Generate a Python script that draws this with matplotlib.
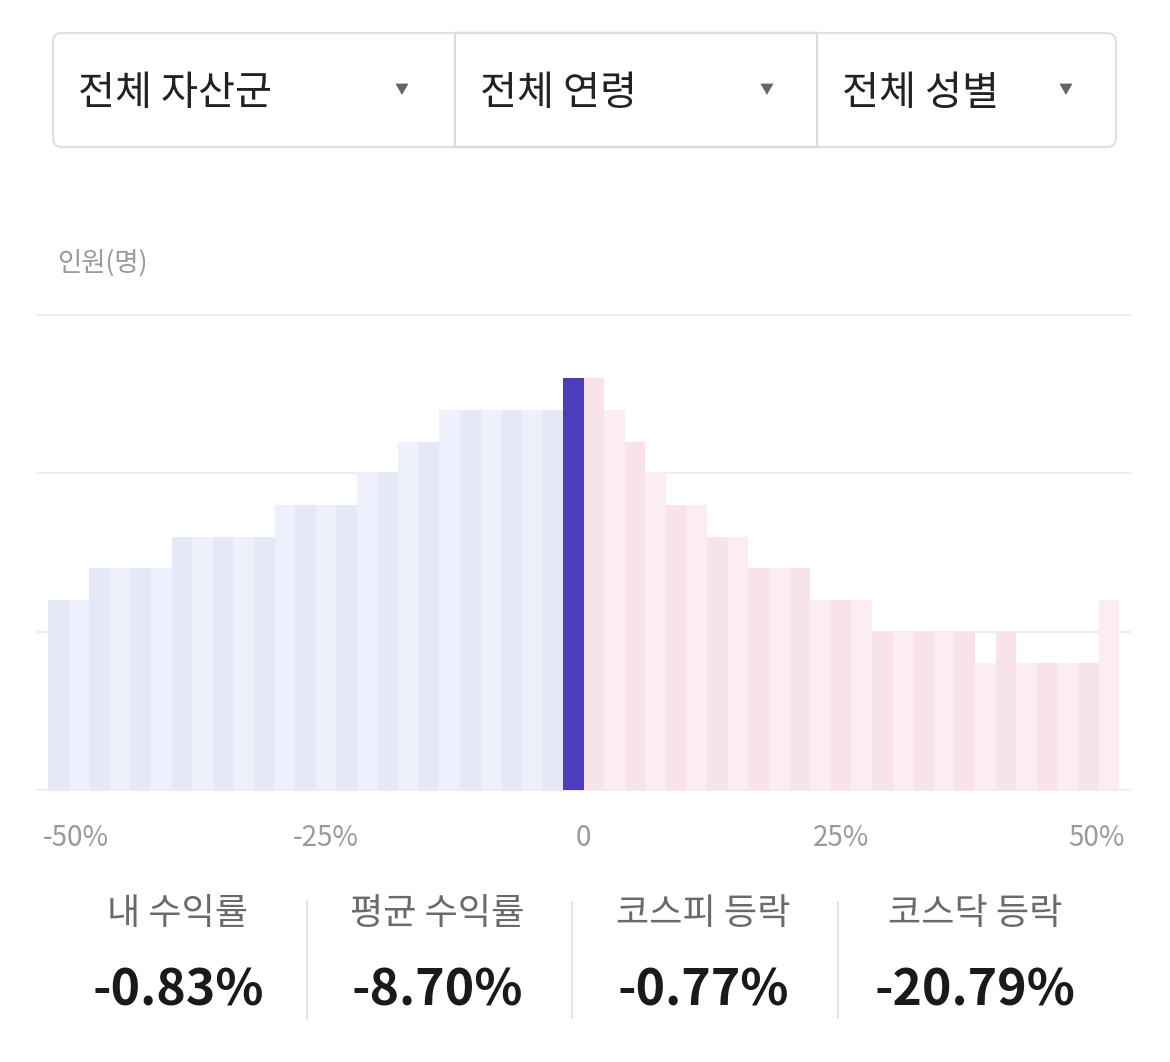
import numpy as np
import matplotlib
matplotlib.use("Agg")
import matplotlib.pyplot as plt
from matplotlib.patches import FancyBboxPatch, Rectangle
from matplotlib.transforms import offset_copy

plt.rcParams['font.family'] = ['Noto Sans CJK KR', 'DejaVu Sans']

# 데이터
filters = ["전체 자산군", "전체 연령", "전체 성별"]
bin_width = 2
bin_starts = np.arange(-52, 52, bin_width)  # 2% 구간
counts_neg = [6, 6, 7, 7, 7, 7, 8, 8, 8, 8, 8, 9, 9, 9, 9, 10, 10, 11, 11, 12, 12, 12, 12, 12, 12, 13]
counts_pos = [13, 12, 11, 10, 9, 9, 8, 8, 7, 7, 7, 6, 6, 6, 5, 5, 5, 5, 5, 4, 5, 4, 4, 4, 4, 6]
counts = counts_neg + counts_pos
tick_vals = [-50, -25, 0, 25, 50]
tick_labels = ["-50%", "-25%", "0", "25%", "50%"]
stat_names = ["내 수익률", "평균 수익률", "코스피 등락", "코스닥 등락"]
stat_values = [-0.83, -8.70, -0.77, -20.79]
my_return = stat_values[0]

W, H = 1170, 1062
fig = plt.figure(figsize=(W / 100, H / 100), dpi=100)

# 차트 영역
ax = fig.add_axes([37 / W, 1 - 790 / H, (1130 - 37) / W, (790 - 315) / H])
colors = []
for i, s in enumerate(bin_starts):
    if s <= my_return < s + bin_width:
        colors.append("#4B3DBB")
    elif s < 0:
        colors.append("#E5E9F7" if i % 2 == 0 else "#EEF0FB")
    else:
        colors.append("#F9E3EA" if i % 2 == 0 else "#FBEDF1")
ax.bar(bin_starts, counts, width=bin_width, align='edge', color=colors, linewidth=0, zorder=2)

for g in [0, 5, 10, 15]:
    ax.axhline(g, color="#EEEEF1", lw=1.6, zorder=1, clip_on=False)

ax.set_xlim(-53.07, 53.05)
ax.set_ylim(0, 15)
ax.set_yticks([])
ax.set_xticks(tick_vals)
ax.set_xticklabels(tick_labels, color="#9A9A9A", fontsize=20)
ax.tick_params(axis='x', length=0, pad=24)
for sp in ax.spines.values():
    sp.set_visible(False)
# 양 끝 라벨을 축 안쪽으로 살짝
tl = ax.get_xticklabels()
tl[0].set_transform(offset_copy(tl[0].get_transform(), fig=fig, x=7, units='dots'))
tl[-1].set_transform(offset_copy(tl[-1].get_transform(), fig=fig, x=-2, units='dots'))

# 오버레이 (필터, 라벨, 통계)
ov = fig.add_axes([0, 0, 1, 1], zorder=-1)
ov.set_xlim(0, W)
ov.set_ylim(H, 0)
ov.axis('off')

box = FancyBboxPatch((53, 33), 1116 - 53, 147 - 33, boxstyle="round,pad=0,rounding_size=9",
                     facecolor="white", edgecolor="#E0E0E3", lw=1.6)
ov.add_patch(box)
ov.add_patch(Rectangle((455, 33), 817 - 455, 147 - 33, facecolor="none", edgecolor="#D9DCE0", lw=1.6))

seg_x = [53, 455, 817]
arrow_x = [402, 767, 1066]
for name, sx, axx in zip(filters, seg_x, arrow_x):
    ov.text(sx + 25, 93, name, fontsize=29, color="#222222", va='center', ha='left')
    ov.text(axx, 90, "▼", fontsize=10, color="#666666", va='center', ha='center')

ov.text(57, 263, "인원(명)", fontsize=19, color="#9A9A9A", va='center', ha='left')

stat_x = [178, 437, 703, 975]
for name, val, sx in zip(stat_names, stat_values, stat_x):
    ov.text(sx, 914, name, fontsize=26, color="#6A6A6A", va='center', ha='center')
    ov.text(sx, 991, f"{val:.2f}%", fontsize=36, color="#1A1A1A", va='center', ha='center',
            fontweight='bold')
for dx in [307, 572, 838]:
    ov.plot([dx, dx], [902, 1018], color="#E6E6E8", lw=1.5)

fig.savefig("out.png", dpi=100, facecolor="white")
